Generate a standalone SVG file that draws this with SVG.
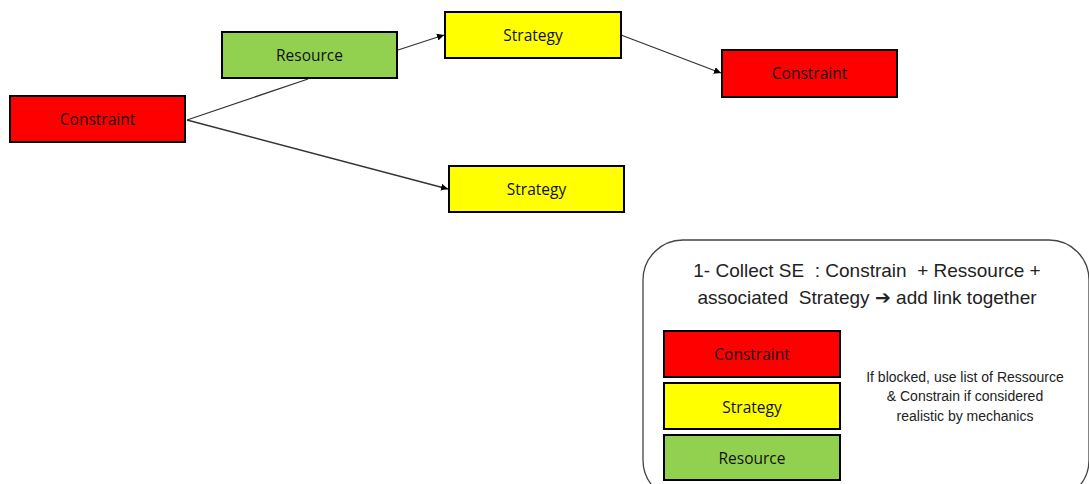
<svg xmlns="http://www.w3.org/2000/svg" width="1089" height="484" viewBox="0 0 1089 484">
<style>
.box{stroke:#000;stroke-width:2}
.red{fill:#ff0000}
.yel{fill:#ffff00}
.grn{fill:#92d050}
.lbl{font-family:"Open Sans","Liberation Sans",sans-serif;font-size:15.5px;fill:#111;text-anchor:middle;dominant-baseline:central}
.conn{stroke:#333;stroke-width:1.3;fill:none}
.big{font-family:"Liberation Sans",Arial,sans-serif;font-size:19px;fill:#222;text-anchor:middle;white-space:pre}
.small{font-family:"Liberation Sans",Arial,sans-serif;font-size:14px;fill:#222;text-anchor:middle}
</style>
<defs>
<marker id="arr" viewBox="0 0 10 10" refX="10" refY="5" markerWidth="7" markerHeight="7" orient="auto" markerUnits="userSpaceOnUse">
<path d="M0,0 L10,5 L0,10 z" fill="#000"/>
</marker>
</defs>
<rect width="1089" height="484" fill="#fff"/>
<g id="connectors">
<line class="conn" x1="187" y1="120" x2="308" y2="79"/>
<line class="conn" x1="187" y1="120" x2="448" y2="189" marker-end="url(#arr)"/>
<line class="conn" x1="398" y1="50" x2="444" y2="35" marker-end="url(#arr)"/>
<line class="conn" x1="621" y1="35" x2="721" y2="73" marker-end="url(#arr)"/>
</g>
<g id="constraint1">
<rect class="box red" x="10" y="96" width="175" height="46"/>
<text class="lbl" x="97.5" y="119">Constraint</text>
</g>
<g id="resource1">
<rect class="box grn" x="222" y="32" width="175" height="46"/>
<text class="lbl" x="309.5" y="55">Resource</text>
</g>
<g id="strategy1">
<rect class="box yel" x="445" y="12" width="176" height="46"/>
<text class="lbl" x="533" y="35">Strategy</text>
</g>
<g id="constraint2">
<rect class="box red" x="722" y="50" width="175" height="47"/>
<text class="lbl" x="809.5" y="73">Constraint</text>
</g>
<g id="strategy2">
<rect class="box yel" x="449" y="166" width="175" height="46"/>
<text class="lbl" x="536.5" y="189">Strategy</text>
</g>
<g id="legend">
<rect x="643" y="240" width="446" height="260" rx="40" ry="40" fill="#fff" stroke="#444" stroke-width="1.3"/>
<text class="big" x="867" y="277" xml:space="preserve">1- Collect SE  : Constrain  + Ressource +</text>
<text class="big" x="867" y="304" xml:space="preserve">associated  Strategy ➔ add link together</text>
</g>
<g id="legend-constraint">
<rect class="box red" x="664" y="331" width="176" height="46"/>
<text class="lbl" x="752" y="354">Constraint</text>
</g>
<g id="legend-strategy">
<rect class="box yel" x="664" y="383" width="176" height="46"/>
<text class="lbl" x="752" y="407">Strategy</text>
</g>
<g id="legend-resource">
<rect class="box grn" x="664" y="435" width="176" height="45"/>
<text class="lbl" x="752" y="458">Resource</text>
</g>
<g id="note">
<text class="small" x="965" y="382">If blocked, use list of Ressource</text>
<text class="small" x="965" y="401">&amp; Constrain if considered</text>
<text class="small" x="965" y="421">realistic by mechanics</text>
</g>
</svg>
